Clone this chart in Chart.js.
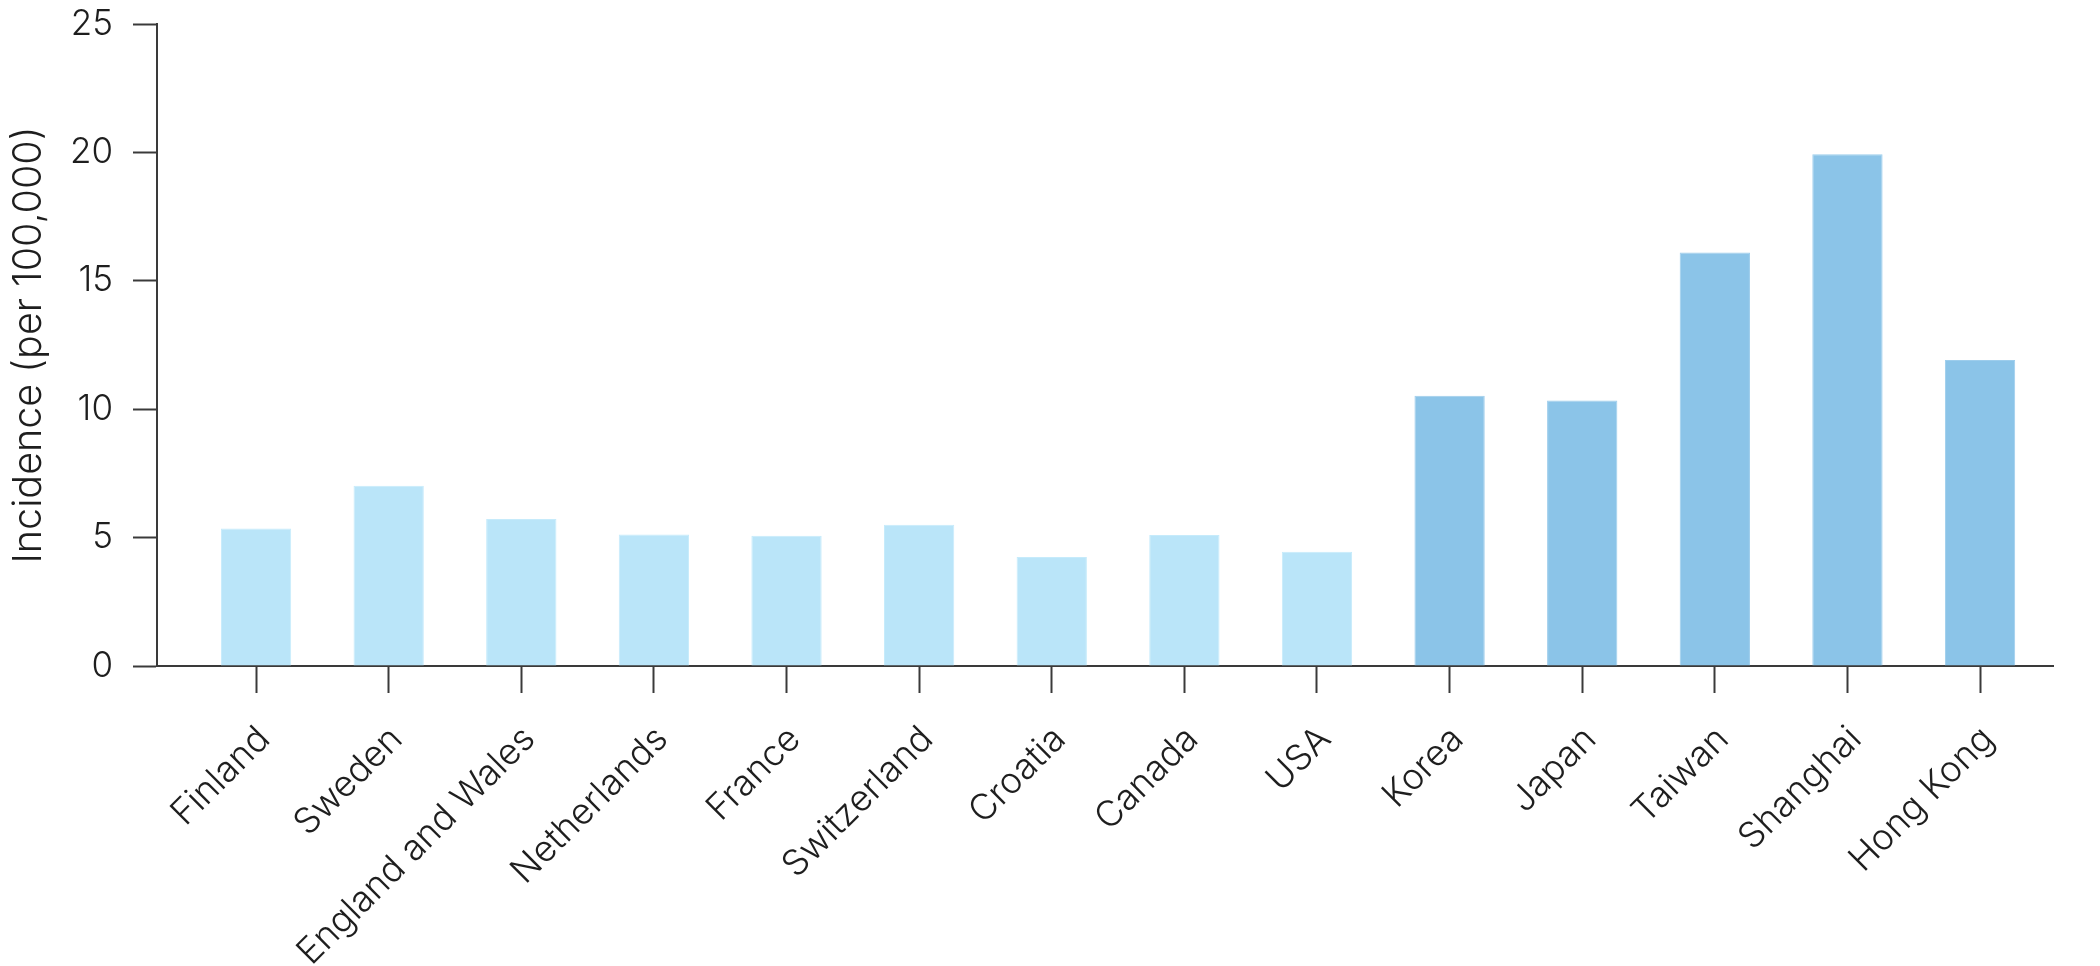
<!DOCTYPE html>
<html>
<head>
<meta charset="utf-8">
<script src="https://cdn.jsdelivr.net/npm/chart.js@4/dist/chart.umd.min.js"></script>
<style>
  html, body { margin: 0; padding: 0; background: #ffffff; }
  #wrap { width: 2100px; height: 966px; position: relative; }
  canvas { display: block; }
</style>
</head>
<body>
<div id="wrap"><canvas id="c" width="2100" height="966"></canvas></div>
<script>
const categories = ["Finland", "Sweden", "England and Wales", "Netherlands", "France", "Switzerland", "Croatia", "Canada", "USA", "Korea", "Japan", "Taiwan", "Shanghai", "Hong Kong"];
const incidence = [5.35, 7.02, 5.72, 5.12, 5.07, 5.5, 4.24, 5.1, 4.45, 10.52, 10.34, 16.1, 19.93, 11.92];
const region = ["West", "West", "West", "West", "West", "West", "West", "West", "West", "Asia", "Asia", "Asia", "Asia", "Asia"];
const yTicks = [0, 5, 10, 15, 20, 25];
const yTitle = "Incidence (per 100,000)";

const colorFor = { West: "#bae5f9", Asia: "#8bc4e8" };
const borderFor = { West: "#c6ebfb", Asia: "#9dcdec" };
const fontFamily = "Inter, 'Noto Sans', sans-serif";
const textColor = "#1e1e1e";
const axisColor = "#3a3a3a";

const points = categories.map((c, i) => ({ x: i, y: incidence[i] }));

new Chart(document.getElementById("c"), {
  type: "bar",
  data: {
    datasets: [{
      data: points,
      backgroundColor: region.map(r => colorFor[r]),
      borderColor: region.map(r => borderFor[r]),
      borderWidth: 1,
      categoryPercentage: 1,
      barPercentage: 0.53
    }]
  },
  options: {
    responsive: false,
    animation: false,
    devicePixelRatio: 1,
    layout: { padding: { top: 0, right: 47, left: 0, bottom: 0 } },
    plugins: { legend: { display: false }, tooltip: { enabled: false } },
    scales: {
      x: {
        type: "linear",
        offset: false,
        min: -0.747,
        max: 13.55,
        afterBuildTicks: (axis) => { axis.ticks = categories.map((c, i) => ({ value: i })); },
        afterFit: (axis) => { axis.height = 300; },
        ticks: {
          autoSkip: false,
          maxRotation: 45,
          minRotation: 45,
          padding: 25,
          labelOffset: 8,
          color: textColor,
          font: { family: fontFamily, size: 36, weight: 300 },
          callback: (v) => categories[v]
        },
        grid: {
          display: true,
          offset: false,
          drawOnChartArea: false,
          drawTicks: true,
          tickLength: 27,
          tickWidth: 2,
          tickColor: axisColor
        },
        border: { display: true, color: axisColor, width: 2 }
      },
      y: {
        min: 0,
        max: 25,
        afterBuildTicks: (axis) => { axis.ticks = yTicks.map(v => ({ value: v })); },
        afterFit: (axis) => { axis.width = 157; },
        ticks: {
          padding: 20,
          color: textColor,
          font: { family: fontFamily, size: 35, weight: 300, lineHeight: 0.23 }
        },
        grid: {
          display: true,
          drawOnChartArea: false,
          drawTicks: true,
          tickLength: 24,
          tickWidth: 2,
          tickColor: axisColor
        },
        border: { display: true, color: axisColor, width: 2 },
        title: {
          display: true,
          text: yTitle,
          color: textColor,
          font: { family: fontFamily, size: 39.5, weight: 300 },
          padding: { top: 5, bottom: 4 }
        }
      }
    }
  }
});
</script>
</body>
</html>
